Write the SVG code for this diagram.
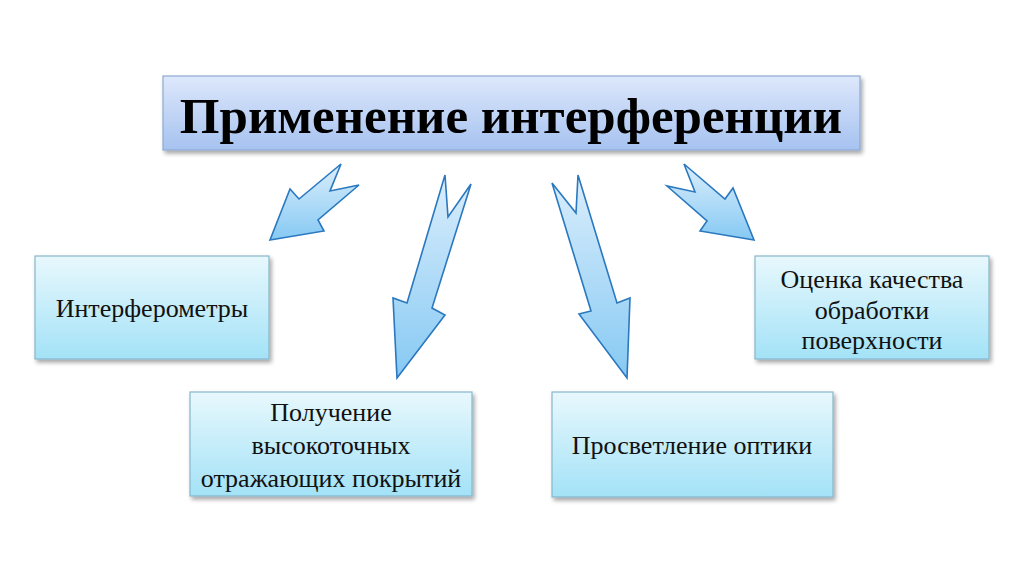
<svg xmlns="http://www.w3.org/2000/svg" width="1024" height="574" viewBox="0 0 1024 574">
<defs>
<linearGradient id="gTitle" x1="0" y1="0" x2="0" y2="1">
<stop offset="0" stop-color="#dde8fb"/>
<stop offset="1" stop-color="#a6c2f0"/>
</linearGradient>
<linearGradient id="gBox" x1="0" y1="0" x2="0" y2="1">
<stop offset="0" stop-color="#e8f8fd"/>
<stop offset="1" stop-color="#a3e2f7"/>
</linearGradient>
<linearGradient id="gArrow" x1="0" y1="0" x2="0" y2="1">
<stop offset="0" stop-color="#dbeefc"/>
<stop offset="1" stop-color="#86c9f3"/>
</linearGradient>
<filter id="sh" x="-10%" y="-20%" width="120%" height="150%">
<feGaussianBlur in="SourceAlpha" stdDeviation="2"/>
<feOffset dx="2" dy="3" result="b"/>
<feComponentTransfer><feFuncA type="linear" slope="0.35"/></feComponentTransfer>
<feMerge><feMergeNode/><feMergeNode in="SourceGraphic"/></feMerge>
</filter>
</defs>
<style>
.title{fill:url(#gTitle);stroke:#8fa9d2;stroke-width:1.2}
.box{fill:url(#gBox);stroke:#86b6cb;stroke-width:1.2}
.arr{fill:url(#gArrow);stroke:#2a78bf;stroke-width:1.6;stroke-linejoin:miter}
.t{font-family:"Liberation Serif","Times New Roman",serif;font-size:26px;fill:#111;text-anchor:middle}
.tt{font-family:"Liberation Serif","Times New Roman",serif;font-size:51px;font-weight:bold;fill:#000;text-anchor:middle}
</style>
<rect width="1024" height="574" fill="#ffffff"/>
<g id="title">
<rect class="title" x="163" y="76" width="697" height="74" filter="url(#sh)"/>
<text class="tt" x="511" y="133">Применение интерференции</text>
</g>
<g id="connectors">
<polygon class="arr" points="341,164 330,191 359,185 318,220 324,231 270,240 290,189 299,199"/>
<polygon class="arr" points="445,175 448,217 471,184 432,308 445,315 397,378 393,298 407,303"/>
<polygon class="arr" points="552,183 576,213 578,175 617,303 630,298 627,378 579,314 591,311"/>
<polygon class="arr" points="684,164 695,192 667,186 707,221 700,231 754,240 733,188 725,199"/>
</g>
<g id="node-interferometers">
<rect class="box" x="35" y="256" width="234" height="103" filter="url(#sh)"/>
<text class="t" x="152" y="317">Интерферометры</text>
</g>
<g id="node-coatings">
<rect class="box" x="190" y="392" width="282" height="104" filter="url(#sh)"/>
<text class="t" x="331" y="421">Получение</text>
<text class="t" x="331" y="454">высокоточных</text>
<text class="t" x="331" y="487">отражающих покрытий</text>
</g>
<g id="node-optics">
<rect class="box" x="552" y="392" width="281" height="105" filter="url(#sh)"/>
<text class="t" x="692" y="454">Просветление оптики</text>
</g>
<g id="node-surface">
<rect class="box" x="755" y="256" width="234" height="103" filter="url(#sh)"/>
<text class="t" x="872" y="288">Оценка качества</text>
<text class="t" x="872" y="319">обработки</text>
<text class="t" x="872" y="349">поверхности</text>
</g>
</svg>
